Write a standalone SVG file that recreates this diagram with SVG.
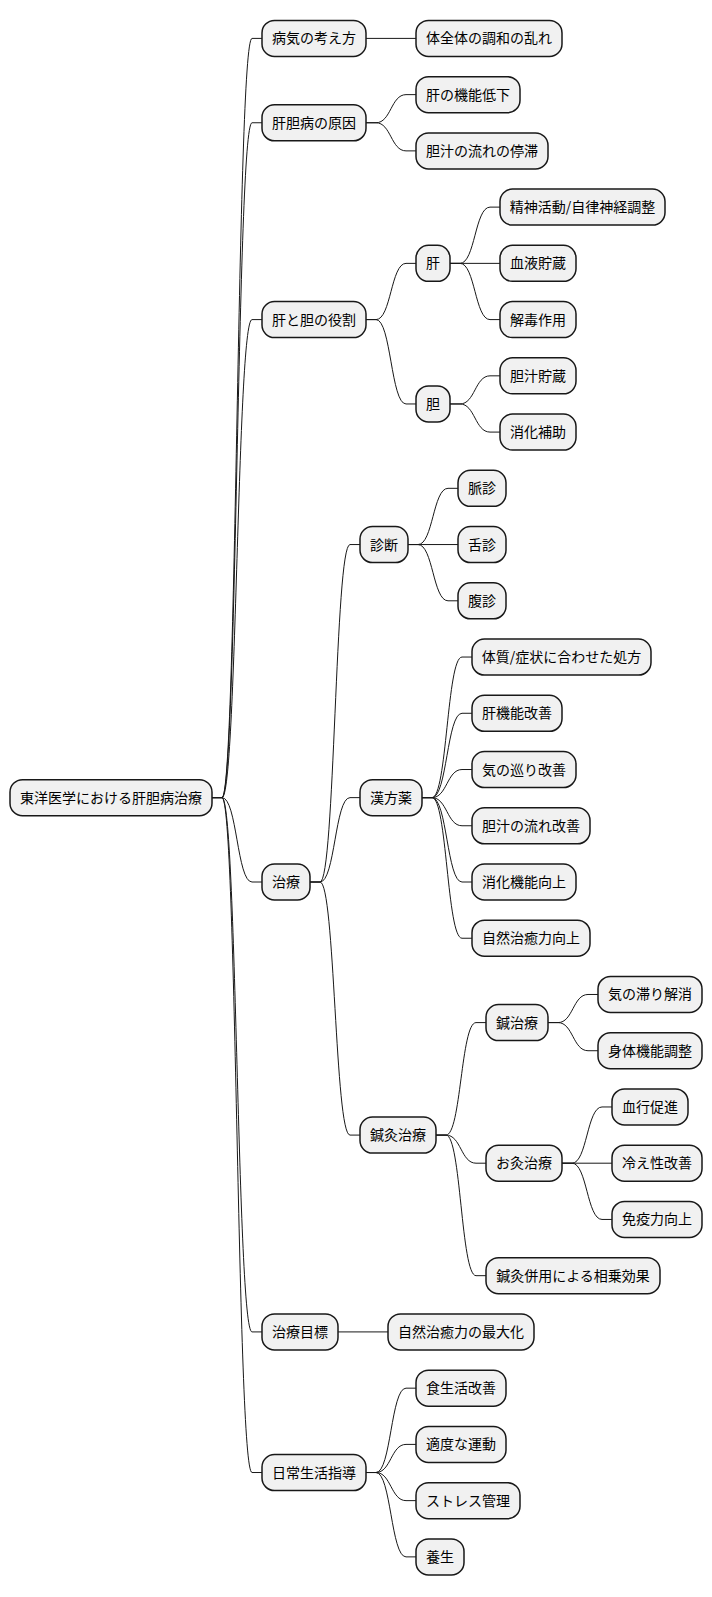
<svg xmlns="http://www.w3.org/2000/svg" width="712" height="1597" viewBox="0 0 712 1597">
<style>
.n rect{fill:#F1F1F1;stroke:#181818;stroke-width:1.5}
.n text{font-family:"Noto Sans CJK JP","Noto Sans",sans-serif;font-size:14px;fill:#000000;text-anchor:middle}
.c path{fill:none;stroke:#181818;stroke-width:1}
</style>
<rect x="0" y="0" width="712" height="1597" fill="#FFFFFF"/>
<g id="connectors" class="c">
<path d="M212,797.64 L222,797.64 C237,797.64 237,38.4 252,38.4 L262,38.4"/>
<path d="M212,797.64 L222,797.64 C237,797.64 237,122.76 252,122.76 L262,122.76"/>
<path d="M212,797.64 L222,797.64 C237,797.64 237,319.6 252,319.6 L262,319.6"/>
<path d="M212,797.64 L222,797.64 C237,797.64 237,882 252,882 L262,882"/>
<path d="M212,797.64 L222,797.64 C237,797.64 237,1331.92 252,1331.92 L262,1331.92"/>
<path d="M212,797.64 L222,797.64 C237,797.64 237,1472.52 252,1472.52 L262,1472.52"/>
<path d="M366,38.4 L416,38.4"/>
<path d="M366,122.76 L376,122.76 C391,122.76 391,94.64 406,94.64 L416,94.64"/>
<path d="M366,122.76 L376,122.76 C391,122.76 391,150.88 406,150.88 L416,150.88"/>
<path d="M366,319.6 L376,319.6 C391,319.6 391,263.36 406,263.36 L416,263.36"/>
<path d="M366,319.6 L376,319.6 C391,319.6 391,403.96 406,403.96 L416,403.96"/>
<path d="M450,263.36 L460,263.36 C475,263.36 475,207.12 490,207.12 L500,207.12"/>
<path d="M450,263.36 L500,263.36"/>
<path d="M450,263.36 L460,263.36 C475,263.36 475,319.6 490,319.6 L500,319.6"/>
<path d="M450,403.96 L460,403.96 C475,403.96 475,375.84 490,375.84 L500,375.84"/>
<path d="M450,403.96 L460,403.96 C475,403.96 475,432.08 490,432.08 L500,432.08"/>
<path d="M310,882 L320,882 C335,882 335,544.56 350,544.56 L360,544.56"/>
<path d="M310,882 L320,882 C335,882 335,797.64 350,797.64 L360,797.64"/>
<path d="M310,882 L320,882 C335,882 335,1135.08 350,1135.08 L360,1135.08"/>
<path d="M408,544.56 L418,544.56 C433,544.56 433,488.32 448,488.32 L458,488.32"/>
<path d="M408,544.56 L458,544.56"/>
<path d="M408,544.56 L418,544.56 C433,544.56 433,600.8 448,600.8 L458,600.8"/>
<path d="M422,797.64 L432,797.64 C447,797.64 447,657.04 462,657.04 L472,657.04"/>
<path d="M422,797.64 L432,797.64 C447,797.64 447,713.28 462,713.28 L472,713.28"/>
<path d="M422,797.64 L432,797.64 C447,797.64 447,769.52 462,769.52 L472,769.52"/>
<path d="M422,797.64 L432,797.64 C447,797.64 447,825.76 462,825.76 L472,825.76"/>
<path d="M422,797.64 L432,797.64 C447,797.64 447,882 462,882 L472,882"/>
<path d="M422,797.64 L432,797.64 C447,797.64 447,938.24 462,938.24 L472,938.24"/>
<path d="M436,1135.08 L446,1135.08 C461,1135.08 461,1022.6 476,1022.6 L486,1022.6"/>
<path d="M436,1135.08 L446,1135.08 C461,1135.08 461,1163.2 476,1163.2 L486,1163.2"/>
<path d="M436,1135.08 L446,1135.08 C461,1135.08 461,1275.68 476,1275.68 L486,1275.68"/>
<path d="M548,1022.6 L558,1022.6 C573,1022.6 573,994.48 588,994.48 L598,994.48"/>
<path d="M548,1022.6 L558,1022.6 C573,1022.6 573,1050.72 588,1050.72 L598,1050.72"/>
<path d="M562,1163.2 L572,1163.2 C587,1163.2 587,1106.96 602,1106.96 L612,1106.96"/>
<path d="M562,1163.2 L612,1163.2"/>
<path d="M562,1163.2 L572,1163.2 C587,1163.2 587,1219.44 602,1219.44 L612,1219.44"/>
<path d="M338,1331.92 L388,1331.92"/>
<path d="M366,1472.52 L376,1472.52 C391,1472.52 391,1388.16 406,1388.16 L416,1388.16"/>
<path d="M366,1472.52 L376,1472.52 C391,1472.52 391,1444.4 406,1444.4 L416,1444.4"/>
<path d="M366,1472.52 L376,1472.52 C391,1472.52 391,1500.64 406,1500.64 L416,1500.64"/>
<path d="M366,1472.52 L376,1472.52 C391,1472.52 391,1556.88 406,1556.88 L416,1556.88"/>
</g>
<g id="root" class="n"><rect x="10" y="779.64" width="202" height="36" rx="12.5"/><text x="111" y="802.64">東洋医学における肝胆病治療</text></g>
<g id="byoki" class="n"><rect x="262" y="20.4" width="104" height="36" rx="12.5"/><text x="314" y="43.4">病気の考え方</text></g>
<g id="genin" class="n"><rect x="262" y="104.76" width="104" height="36" rx="12.5"/><text x="314" y="127.76">肝胆病の原因</text></g>
<g id="yakuwari" class="n"><rect x="262" y="301.6" width="104" height="36" rx="12.5"/><text x="314" y="324.6">肝と胆の役割</text></g>
<g id="chiryo" class="n"><rect x="262" y="864" width="48" height="36" rx="12.5"/><text x="286" y="887">治療</text></g>
<g id="mokuhyo" class="n"><rect x="262" y="1313.92" width="76" height="36" rx="12.5"/><text x="300" y="1336.92">治療目標</text></g>
<g id="shido" class="n"><rect x="262" y="1454.52" width="104" height="36" rx="12.5"/><text x="314" y="1477.52">日常生活指導</text></g>
<g id="chowa" class="n"><rect x="416" y="20.4" width="146" height="36" rx="12.5"/><text x="489" y="43.4">体全体の調和の乱れ</text></g>
<g id="kinoteika" class="n"><rect x="416" y="76.64" width="104" height="36" rx="12.5"/><text x="468" y="99.64">肝の機能低下</text></g>
<g id="teitai" class="n"><rect x="416" y="132.88" width="132" height="36" rx="12.5"/><text x="482" y="155.88">胆汁の流れの停滞</text></g>
<g id="kan" class="n"><rect x="416" y="245.36" width="34" height="36" rx="12.5"/><text x="433" y="268.36">肝</text></g>
<g id="tan" class="n"><rect x="416" y="385.96" width="34" height="36" rx="12.5"/><text x="433" y="408.96">胆</text></g>
<g id="shindan" class="n"><rect x="360" y="526.56" width="48" height="36" rx="12.5"/><text x="384" y="549.56">診断</text></g>
<g id="kampo" class="n"><rect x="360" y="779.64" width="62" height="36" rx="12.5"/><text x="391" y="802.64">漢方薬</text></g>
<g id="shinkyu" class="n"><rect x="360" y="1117.08" width="76" height="36" rx="12.5"/><text x="398" y="1140.08">鍼灸治療</text></g>
<g id="saidaika" class="n"><rect x="388" y="1313.92" width="146" height="36" rx="12.5"/><text x="461" y="1336.92">自然治癒力の最大化</text></g>
<g id="shokuseikatsu" class="n"><rect x="416" y="1370.16" width="90" height="36" rx="12.5"/><text x="461" y="1393.16">食生活改善</text></g>
<g id="undo" class="n"><rect x="416" y="1426.4" width="90" height="36" rx="12.5"/><text x="461" y="1449.4">適度な運動</text></g>
<g id="stress" class="n"><rect x="416" y="1482.64" width="104" height="36" rx="12.5"/><text x="468" y="1505.64">ストレス管理</text></g>
<g id="yojo" class="n"><rect x="416" y="1538.88" width="48" height="36" rx="12.5"/><text x="440" y="1561.88">養生</text></g>
<g id="seishin" class="n"><rect x="500" y="189.12" width="165" height="36" rx="12.5"/><text x="582.5" y="212.12">精神活動/自律神経調整</text></g>
<g id="ketsueki" class="n"><rect x="500" y="245.36" width="76" height="36" rx="12.5"/><text x="538" y="268.36">血液貯蔵</text></g>
<g id="gedoku" class="n"><rect x="500" y="301.6" width="76" height="36" rx="12.5"/><text x="538" y="324.6">解毒作用</text></g>
<g id="tanjuchozo" class="n"><rect x="500" y="357.84" width="76" height="36" rx="12.5"/><text x="538" y="380.84">胆汁貯蔵</text></g>
<g id="shoka" class="n"><rect x="500" y="414.08" width="76" height="36" rx="12.5"/><text x="538" y="437.08">消化補助</text></g>
<g id="myakushin" class="n"><rect x="458" y="470.32" width="48" height="36" rx="12.5"/><text x="482" y="493.32">脈診</text></g>
<g id="zesshin" class="n"><rect x="458" y="526.56" width="48" height="36" rx="12.5"/><text x="482" y="549.56">舌診</text></g>
<g id="fukushin" class="n"><rect x="458" y="582.8" width="48" height="36" rx="12.5"/><text x="482" y="605.8">腹診</text></g>
<g id="shoho" class="n"><rect x="472" y="639.04" width="179" height="36" rx="12.5"/><text x="561.5" y="662.04">体質/症状に合わせた処方</text></g>
<g id="kankino" class="n"><rect x="472" y="695.28" width="90" height="36" rx="12.5"/><text x="517" y="718.28">肝機能改善</text></g>
<g id="kimeguri" class="n"><rect x="472" y="751.52" width="104" height="36" rx="12.5"/><text x="524" y="774.52">気の巡り改善</text></g>
<g id="tanjunagare" class="n"><rect x="472" y="807.76" width="118" height="36" rx="12.5"/><text x="531" y="830.76">胆汁の流れ改善</text></g>
<g id="shokakino" class="n"><rect x="472" y="864" width="104" height="36" rx="12.5"/><text x="524" y="887">消化機能向上</text></g>
<g id="chiyuryoku" class="n"><rect x="472" y="920.24" width="118" height="36" rx="12.5"/><text x="531" y="943.24">自然治癒力向上</text></g>
<g id="hari" class="n"><rect x="486" y="1004.6" width="62" height="36" rx="12.5"/><text x="517" y="1027.6">鍼治療</text></g>
<g id="okyu" class="n"><rect x="486" y="1145.2" width="76" height="36" rx="12.5"/><text x="524" y="1168.2">お灸治療</text></g>
<g id="heiyo" class="n"><rect x="486" y="1257.68" width="174" height="36" rx="12.5"/><text x="573" y="1280.68">鍼灸併用による相乗効果</text></g>
<g id="todokori" class="n"><rect x="598" y="976.48" width="104" height="36" rx="12.5"/><text x="650" y="999.48">気の滞り解消</text></g>
<g id="shintai" class="n"><rect x="598" y="1032.72" width="104" height="36" rx="12.5"/><text x="650" y="1055.72">身体機能調整</text></g>
<g id="kekko" class="n"><rect x="612" y="1088.96" width="76" height="36" rx="12.5"/><text x="650" y="1111.96">血行促進</text></g>
<g id="hieshou" class="n"><rect x="612" y="1145.2" width="90" height="36" rx="12.5"/><text x="657" y="1168.2">冷え性改善</text></g>
<g id="meneki" class="n"><rect x="612" y="1201.44" width="90" height="36" rx="12.5"/><text x="657" y="1224.44">免疫力向上</text></g>
</svg>
